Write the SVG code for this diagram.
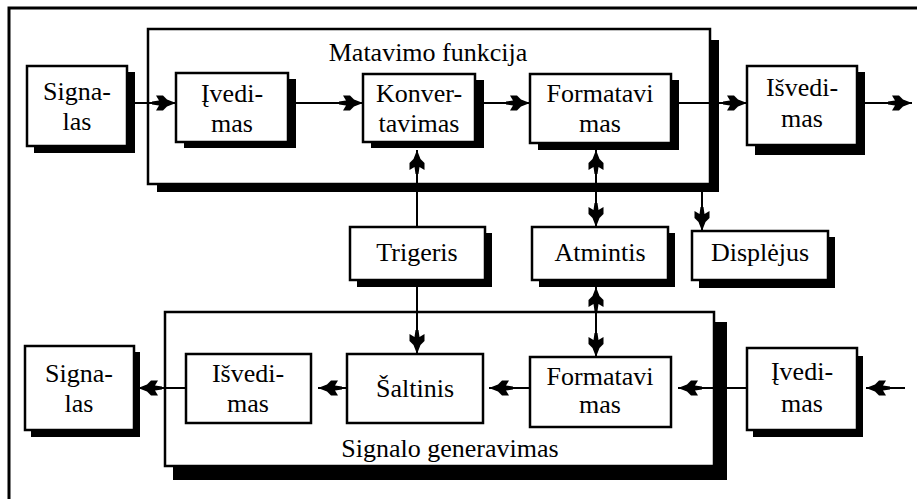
<svg xmlns="http://www.w3.org/2000/svg" width="917" height="499" viewBox="0 0 917 499">
<defs>
<style>
.box{fill:#fff;stroke:#000;stroke-width:2.5}
.sh{fill:#000}
.c{stroke:#000;stroke-width:2;fill:none}
.t{font-family:'Liberation Serif','Times New Roman',serif;font-size:26px;text-anchor:middle;fill:#000}
</style>
<marker id="ah" markerUnits="userSpaceOnUse" markerWidth="28" markerHeight="20" viewBox="-25 -10 26 20" refX="0" refY="0" orient="auto-start-reverse">
<path d="M0,0 L-9,-3.5 L-13,-7.5 L-20,-7.5 L-17,-2.5 L-24,-1.5 L-24,1.5 L-17,2.5 L-20,7.5 L-13,7.5 L-9,3.5 Z" fill="#000"/>
</marker>
</defs>
<rect width="917" height="499" fill="#fff"/>
<g id="frame">
<path d="M9,499 V8 H917" stroke="#000" stroke-width="3" fill="none"/>
</g>
<g id="matavimo">
<rect class="sh" x="157" y="40" width="562" height="152"/>
<rect class="box" x="148" y="29" width="562" height="155"/>
<text class="t" x="428" y="61">Matavimo funkcija</text>
</g>
<g id="generavimo">
<rect class="sh" x="173" y="322" width="554" height="158"/>
<rect class="box" x="165" y="312" width="549" height="154"/>
<text class="t" x="450" y="457">Signalo generavimas</text>
</g>
<g id="connectors">
<line class="c" x1="135" y1="103" x2="176" y2="103" marker-end="url(#ah)"/>
<line class="c" x1="296" y1="103" x2="363" y2="103" marker-end="url(#ah)"/>
<line class="c" x1="484" y1="103" x2="530" y2="103" marker-end="url(#ah)"/>
<line class="c" x1="679" y1="103" x2="747" y2="103" marker-end="url(#ah)"/>
<line class="c" x1="865" y1="103" x2="912" y2="103" marker-end="url(#ah)"/>
<line class="c" x1="417" y1="227" x2="417" y2="150" marker-end="url(#ah)"/>
<line class="c" x1="417" y1="287" x2="417" y2="354" marker-end="url(#ah)"/>
<line class="c" x1="596" y1="150" x2="596" y2="227" marker-start="url(#ah)" marker-end="url(#ah)"/>
<line class="c" x1="596" y1="287" x2="596" y2="357" marker-start="url(#ah)" marker-end="url(#ah)"/>
<line class="c" x1="702" y1="192" x2="702" y2="231" marker-end="url(#ah)"/>
<line class="c" x1="905" y1="388" x2="866" y2="388" marker-end="url(#ah)"/>
<line class="c" x1="747" y1="388" x2="678" y2="388" marker-end="url(#ah)"/>
<line class="c" x1="530" y1="388" x2="489" y2="388" marker-end="url(#ah)"/>
<line class="c" x1="347" y1="388" x2="318" y2="388" marker-end="url(#ah)"/>
<line class="c" x1="186" y1="388" x2="138" y2="388" marker-end="url(#ah)"/>
</g>
<g id="signalas1">
<rect class="sh" x="34" y="72" width="101" height="81"/>
<rect class="box" x="27" y="66" width="100" height="80"/>
<text class="t" x="77" y="100">Signa-</text>
<text class="t" x="77" y="130">las</text>
</g>
<g id="ivedimas1">
<rect class="sh" x="184" y="79" width="112" height="69"/>
<rect class="box" x="176" y="73" width="112" height="69"/>
<text class="t" x="232" y="102">Įvedi-</text>
<text class="t" x="232" y="132">mas</text>
</g>
<g id="konvertavimas">
<rect class="sh" x="371" y="80" width="113" height="68"/>
<rect class="box" x="363" y="74" width="112" height="68"/>
<text class="t" x="419" y="102">Konver-</text>
<text class="t" x="419" y="132">tavimas</text>
</g>
<g id="formatavimas1">
<rect class="sh" x="538" y="80" width="141" height="70"/>
<rect class="box" x="530" y="74" width="141" height="69"/>
<text class="t" x="600" y="102">Formatavi</text>
<text class="t" x="600" y="132">mas</text>
</g>
<g id="isvedimas1">
<rect class="sh" x="755" y="72" width="110" height="83"/>
<rect class="box" x="747" y="66" width="110" height="79"/>
<text class="t" x="802" y="96">Išvedi-</text>
<text class="t" x="802" y="127">mas</text>
</g>
<g id="trigeris">
<rect class="sh" x="357" y="233" width="135" height="54"/>
<rect class="box" x="350" y="227" width="135" height="53"/>
<text class="t" x="417" y="261">Trigeris</text>
</g>
<g id="atmintis">
<rect class="sh" x="539" y="233" width="136" height="54"/>
<rect class="box" x="532" y="227" width="136" height="53"/>
<text class="t" x="600" y="261">Atmintis</text>
</g>
<g id="displejus">
<rect class="sh" x="699" y="237" width="136" height="51"/>
<rect class="box" x="692" y="231" width="136" height="49"/>
<text class="t" x="760" y="261">Displėjus</text>
</g>
<g id="signalas2">
<rect class="sh" x="31" y="352" width="109" height="85"/>
<rect class="box" x="25" y="346" width="109" height="84"/>
<text class="t" x="79" y="382">Signa-</text>
<text class="t" x="79" y="412">las</text>
</g>
<g id="isvedimas2">
<rect class="box" x="186" y="354" width="125" height="69"/>
<text class="t" x="248" y="382">Išvedi-</text>
<text class="t" x="248" y="412">mas</text>
</g>
<g id="saltinis">
<rect class="box" x="347" y="354" width="136" height="69"/>
<text class="t" x="415" y="397">Šaltinis</text>
</g>
<g id="formatavimas2">
<rect class="box" x="530" y="357" width="141" height="70"/>
<text class="t" x="600" y="385">Formatavi</text>
<text class="t" x="600" y="413">mas</text>
</g>
<g id="ivedimas2">
<rect class="sh" x="753" y="356" width="110" height="81"/>
<rect class="box" x="747" y="348" width="110" height="82"/>
<text class="t" x="802" y="380">Įvedi-</text>
<text class="t" x="802" y="412">mas</text>
</g>
</svg>
